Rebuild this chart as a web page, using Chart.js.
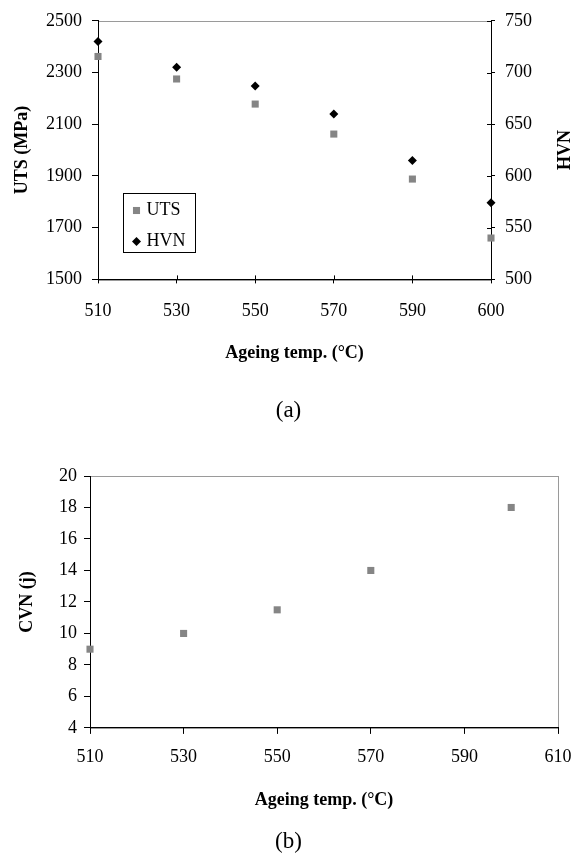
<!DOCTYPE html>
<html>
<head>
<meta charset="utf-8">
<script src="https://cdn.jsdelivr.net/npm/chart.js@4/dist/chart.umd.min.js"></script>
<style>
  html, body { margin: 0; padding: 0; background: #fff; }
  #wrap { position: relative; width: 577px; height: 857px; }
  canvas { position: absolute; left: 0; display: block; }
  #chartA { top: 0; }
  #chartB { top: 430px; }
</style>
</head>
<body>
<div id="wrap">
  <canvas id="chartA" width="577" height="430"></canvas>
  <canvas id="chartB" width="577" height="427"></canvas>
</div>
<script>
// ── data ─────────────────────────────────────────────
const ageTemps   = ["510", "530", "550", "570", "590", "600"];
const utsValues  = [2362, 2275, 2178, 2062, 1888, 1660];
const hvnValues  = [730, 705, 687, 660, 615, 574];

const cvnTemps   = [510, 530, 550, 570, 600];
const cvnValues  = [9, 10, 11.5, 14, 18];

// ── look ─────────────────────────────────────────────
const SERIF = "'Liberation Serif', 'Times New Roman', serif";
const GREY  = "#858585";
Chart.defaults.font.family = SERIF;
Chart.defaults.font.size   = 18;
Chart.defaults.color       = "#000";

const tickFont  = { family: SERIF, size: 18 };
const titleFont = { family: SERIF, size: 18, weight: "bold" };
const plainNum  = v => String(v);   // no thousands separator

// light frame around plot area (axes draw black over it)
const plotFrame = {
  id: "plotFrame",
  beforeDraw(chart) {
    const { ctx, chartArea: a } = chart;
    ctx.save();
    ctx.strokeStyle = "#9a9a9a";
    ctx.lineWidth = 1;
    ctx.strokeRect(Math.round(a.left) + 0.5, Math.round(a.top) + 0.5,
                   Math.round(a.width), Math.round(a.height));
    ctx.restore();
  },
};

// tick marks that also poke into the plot area
const innerTicks = {
  id: "innerTicks",
  afterDraw(chart, args, opts) {
    const { ctx } = chart;
    ctx.save();
    ctx.strokeStyle = "#000";
    ctx.lineWidth = 1;
    (opts.scales || []).forEach(id => {
      const s = chart.scales[id];
      s.ticks.forEach((t, i) => {
        const p = Math.round(s.getPixelForTick(i)) + 0.5;
        ctx.beginPath();
        if (s.isHorizontal()) {
          ctx.moveTo(p, s.top); ctx.lineTo(p, s.top - opts.len);
        } else if (s.position === "right") {
          ctx.moveTo(s.left, p); ctx.lineTo(s.left - opts.len, p);
        } else {
          ctx.moveTo(s.right, p); ctx.lineTo(s.right + opts.len, p);
        }
        ctx.stroke();
      });
    });
    ctx.restore();
  },
};

// boxed legend inside the plot area
const boxLegend = {
  id: "boxLegend",
  afterDatasetsDraw(chart, args, opts) {
    const { ctx, chartArea: a } = chart;
    const x = Math.round(a.left + opts.x) + 0.5;
    const y = Math.round(a.top + opts.y) + 0.5;
    ctx.save();
    ctx.fillStyle = "#fff";
    ctx.fillRect(x, y, opts.w, opts.h);
    ctx.strokeStyle = "#000";
    ctx.lineWidth = 1;
    ctx.strokeRect(x, y, opts.w, opts.h);
    ctx.font = `18px ${SERIF}`;
    ctx.textBaseline = "middle";
    chart.data.datasets.forEach((ds, i) => {
      const cy = y + opts.firstRow + i * opts.rowGap;
      const mx = x + opts.markerX;
      const r  = ds.pointRadius;
      ctx.fillStyle = ds.pointBackgroundColor;
      ctx.beginPath();
      if (ds.pointStyle === "rectRot") {
        ctx.moveTo(mx - r, cy); ctx.lineTo(mx, cy - r);
        ctx.lineTo(mx + r, cy); ctx.lineTo(mx, cy + r);
        ctx.closePath();
      } else {
        const h = r * Math.SQRT1_2;
        ctx.rect(mx - h, cy - h, 2 * h, 2 * h);
      }
      ctx.fill();
      ctx.fillStyle = "#000";
      ctx.fillText(ds.label, x + opts.textX, cy);
    });
    ctx.restore();
  },
};

// right axis title reading bottom-to-top
const sideTitle = {
  id: "sideTitle",
  afterDraw(chart, args, opts) {
    const s = chart.scales[opts.scaleId];
    if (!s) return;
    const { ctx, chartArea: a } = chart;
    ctx.save();
    ctx.translate(s.right - opts.inset, (a.top + a.bottom) / 2);
    ctx.rotate(-Math.PI / 2);
    ctx.font = `bold 18px ${SERIF}`;
    ctx.fillStyle = "#000";
    ctx.textAlign = "center";
    ctx.textBaseline = "middle";
    ctx.fillText(opts.text, 0, 0);
    ctx.restore();
  },
};

// ── (a) UTS / HVN ───────────────────────────────────
new Chart(document.getElementById("chartA").getContext("2d"), {
  type: "line",
  data: {
    labels: ageTemps,
    datasets: [
      {
        label: "UTS",
        data: utsValues,
        yAxisID: "y",
        showLine: false,
        clip: false,
        pointStyle: "rect",
        pointRadius: 5,
        pointBorderWidth: 0,
        pointBackgroundColor: GREY,
        borderColor: GREY,
        backgroundColor: GREY,
      },
      {
        label: "HVN",
        data: hvnValues,
        yAxisID: "y1",
        showLine: false,
        clip: false,
        pointStyle: "rectRot",
        pointRadius: 4.5,
        pointBorderWidth: 0,
        pointBackgroundColor: "#000",
        borderColor: "#000",
        backgroundColor: "#000",
      },
    ],
  },
  options: {
    responsive: false,
    animation: false,
    layout: { padding: { top: 19, left: 0, right: 0, bottom: 0 } },
    scales: {
      x: {
        type: "category",
        offset: false,
        grid: { drawOnChartArea: false, tickLength: 4, color: "#000" },
        border: { color: "#000" },
        ticks: { font: tickFont, padding: 17, maxRotation: 0 },
        title: { display: true, text: "Ageing temp. (°C)", font: titleFont,
                 padding: { top: 0, bottom: 33 } },
        afterFit: s => { s.height = 118; },
      },
      y: {
        position: "left",
        min: 1500, max: 2500,
        grid: { drawOnChartArea: false, tickLength: 6, color: "#000" },
        border: { color: "#000" },
        ticks: { stepSize: 200, font: tickFont, padding: 10, callback: plainNum },
        title: { display: true, text: "UTS (MPa)", font: titleFont,
                 padding: { top: 12, bottom: 0 } },
        afterFit: s => { s.width = 98; },
      },
      y1: {
        position: "right",
        min: 500, max: 750,
        grid: { drawOnChartArea: false, tickLength: 4, color: "#000" },
        border: { color: "#000" },
        ticks: { stepSize: 50, font: tickFont, padding: 10, callback: plainNum },
        afterFit: s => { s.width = 86; },
      },
    },
    plugins: {
      legend: { display: false },
      tooltip: { enabled: false },
      title: {
        display: true, position: "bottom", text: "(a)",
        font: { family: SERIF, size: 23, weight: "normal" },
        padding: { top: 0, bottom: 5 },
      },
      innerTicks: { scales: ["x", "y1"], len: 4 },
      boxLegend: { x: 25, y: 172, w: 72, h: 59, markerX: 13, textX: 23,
                   firstRow: 17, rowGap: 31 },
      sideTitle: { scaleId: "y1", text: "HVN", inset: 12 },
    },
  },
  plugins: [plotFrame, innerTicks, boxLegend, sideTitle],
});

// ── (b) CVN ─────────────────────────────────────────
new Chart(document.getElementById("chartB").getContext("2d"), {
  type: "scatter",
  data: {
    datasets: [{
      label: "CVN",
      data: cvnTemps.map((t, i) => ({ x: t, y: cvnValues[i] })),
      clip: false,
      pointStyle: "rect",
      pointRadius: 5,
      pointBorderWidth: 0,
      pointBackgroundColor: GREY,
      borderColor: GREY,
      backgroundColor: GREY,
    }],
  },
  options: {
    responsive: false,
    animation: false,
    layout: { padding: { top: 46, left: 0, right: 0, bottom: 0 } },
    scales: {
      x: {
        type: "linear",
        min: 510, max: 610,
        grid: { drawOnChartArea: false, tickLength: 6, color: "#000" },
        border: { color: "#000" },
        ticks: { stepSize: 20, font: tickFont, padding: 13, maxRotation: 0, callback: plainNum },
        title: { display: true, text: "Ageing temp. (°C)", font: titleFont,
                 padding: { top: 0, bottom: 17 } },
        // fixed right margin instead of the label-driven one
        afterFit: s => { s.height = 100; s.paddingRight = 19; },
      },
      y: {
        min: 4, max: 20,
        grid: { drawOnChartArea: false, tickLength: 6, color: "#000" },
        border: { color: "#000" },
        ticks: { stepSize: 2, font: tickFont, padding: 7, callback: plainNum },
        title: { display: true, text: "CVN (j)", font: titleFont,
                 padding: { top: 17, bottom: 0 } },
        afterFit: s => { s.width = 90; },
      },
    },
    plugins: {
      legend: { display: false },
      tooltip: { enabled: false },
      title: {
        display: true, position: "bottom", text: "(b)",
        font: { family: SERIF, size: 23, weight: "normal" },
        padding: { top: 0, bottom: 1.5 },
      },
    },
  },
  plugins: [plotFrame],
});
</script>
</body>
</html>
